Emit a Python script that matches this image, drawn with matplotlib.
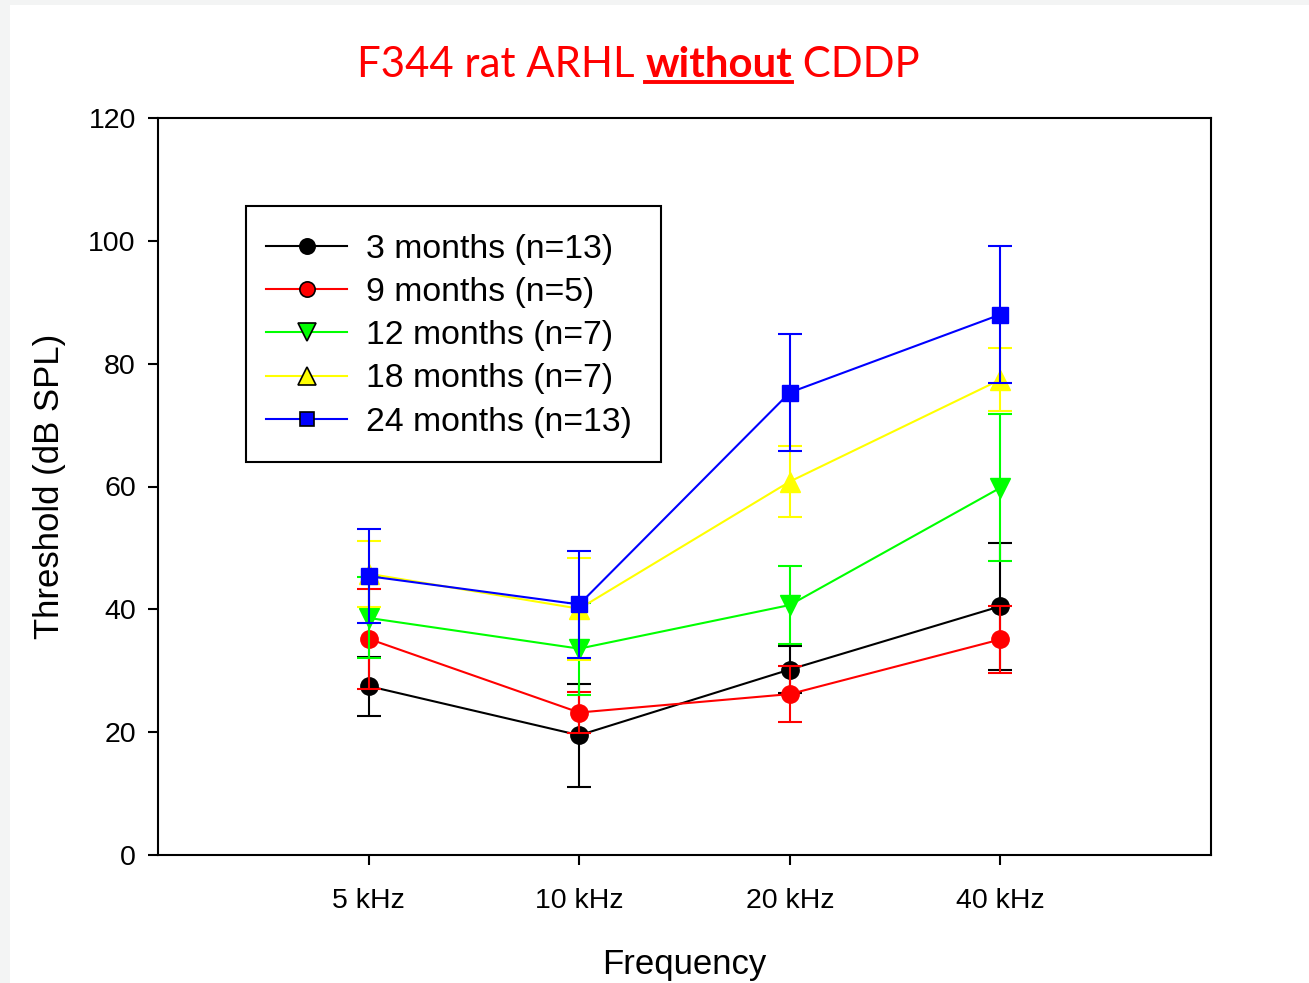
import numpy as np
import matplotlib
matplotlib.use('Agg')
import matplotlib.pyplot as plt
from matplotlib.lines import Line2D
from matplotlib.patches import Rectangle

plt.rcParams['font.family'] = ['Liberation Sans', 'DejaVu Sans']

# Data
freqs = ['5 kHz', '10 kHz', '20 kHz', '40 kHz']
groups = ['3 months (n=13)', '9 months (n=5)', '12 months (n=7)',
          '18 months (n=7)', '24 months (n=13)']
m3 = [27.5, 19.5, 30.2, 40.5]
e3 = [4.8, 8.4, 3.9, 10.3]
m9 = [35.2, 23.2, 26.2, 35.1]
e9 = [8.1, 3.4, 4.5, 5.4]
m12 = [38.6, 33.6, 40.7, 59.8]
e12 = [6.6, 7.5, 6.3, 12.0]
m18 = [45.8, 40.1, 60.8, 77.4]
e18 = [5.4, 8.3, 5.8, 5.1]
m24 = [45.4, 40.8, 75.3, 88.0]
e24 = [7.7, 8.7, 9.5, 11.1]

means = [m3, m9, m12, m18, m24]
errs = [e3, e9, e12, e18, e24]
colors = ['black', 'red', '#00ff00', 'yellow', 'blue']
markers = ['o', 'o', 'v', '^', 's']
msizes = [12.5, 12.5, 14, 14, 12]

W, H = 1309, 983
fig = plt.figure(figsize=(W / 100, H / 100), dpi=100)
fig.patch.set_facecolor('#f3f4f4')
# white page area
fig.patches.append(Rectangle((10 / W, 0), 1, 1 - 5 / H, transform=fig.transFigure,
                             facecolor='white', edgecolor='none', zorder=-10))

ax = fig.add_axes([158 / W, 128 / H, (1211 - 158) / W, (855 - 118) / H])
x = np.arange(1, len(freqs) + 1)

for i in range(len(groups)):
    ax.errorbar(x, means[i], yerr=errs[i], color=colors[i], marker=markers[i],
                markersize=msizes[i], markeredgecolor=colors[i], lw=1.5,
                elinewidth=1.5, capsize=8.5, capthick=1.5, zorder=3 + i)

ax.set_xlim(0, 5)
ax.set_ylim(0, 120)
ax.set_xticks(x)
ax.set_xticklabels(freqs)
ax.set_yticks(np.arange(0, 121, 20))
ax.tick_params(direction='out', length=7, width=1.5, labelsize=20.5, pad=9,
               right=False, top=False)
ax.tick_params(axis='x', pad=17)
for s in ax.spines.values():
    s.set_linewidth(1.5)

ax.set_xlabel('Frequency', fontsize=25, labelpad=24)
ax.set_ylabel('Threshold (dB SPL)', fontsize=25, labelpad=16)

# legend box drawn by hand (reference box has extra room on the right)
def px2ax(px, py):
    return (px - 158) / (1211 - 158), (855 - py) / (855 - 118)

bx0, by0 = px2ax(246, 462)
bx1, by1 = px2ax(661, 206)
ax.add_patch(Rectangle((bx0, by0), bx1 - bx0, by1 - by0, transform=ax.transAxes,
                       facecolor='white', edgecolor='black', lw=1.5, zorder=20))

handles = [Line2D([0], [0], color=colors[i], marker=markers[i], lw=1.5,
                  markersize=11 if markers[i] == 'o' else (10.5 if markers[i] == 's' else 12.5),
                  markerfacecolor=colors[i], markeredgecolor='black', markeredgewidth=1.2)
           for i in range(len(groups))]
lx, ly = px2ax(266, 234)
leg = ax.legend(handles, groups, loc='upper left', bbox_to_anchor=(lx, ly),
                fontsize=24.3, frameon=False, handlelength=2.4, handletextpad=0.55,
                labelspacing=0.36, borderpad=0, borderaxespad=0)
leg.set_zorder(21)

# title: normal / bold underlined / normal
tfont = ['Lato', 'DejaVu Sans']
tsize = 30.2
t1 = fig.text(357 / W, 1 - 77 / H, 'F344 rat ARHL ', color='red', fontsize=tsize,
              family=tfont, va='baseline', ha='left')
t2 = ax.annotate('without', xy=(1, 0), xycoords=t1, color='red', fontsize=tsize,
                 family=tfont, fontweight='bold', va='bottom', ha='left',
                 annotation_clip=False)
t3 = ax.annotate(' CDDP', xy=(1, 0), xycoords=t2, color='red', fontsize=tsize,
                 family=tfont, va='bottom', ha='left', annotation_clip=False)

fig.canvas.draw()
bb = t2.get_window_extent()
uy = 1 - 82 / H
fig.add_artist(Line2D([bb.x0 / W, bb.x1 / W], [uy, uy], color='red', lw=2.8,
                      transform=fig.transFigure))

fig.savefig('out.png', dpi=100, facecolor=fig.get_facecolor())
